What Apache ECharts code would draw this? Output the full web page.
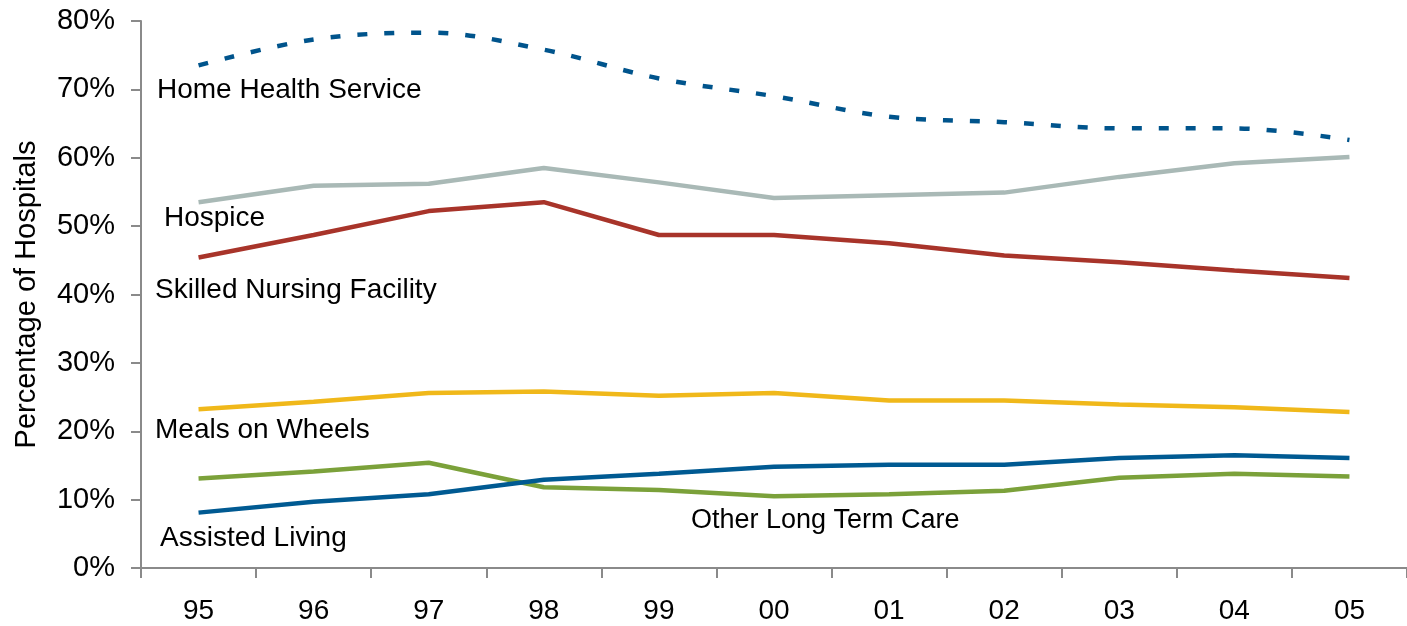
<!DOCTYPE html>
<html lang="en">
<head>
    <meta charset="UTF-8">
    <title>Hospital Long Term Care Services</title>
    <script src="https://cdn.jsdelivr.net/npm/echarts@6/dist/echarts.min.js"></script>
    <style>
        * {
            margin: 0;
            padding: 0;
        }

        #chart {
            width: 1407px;
            height: 626px;
        }
    </style>
</head>
<body>
    <div id="chart"></div>
    <script>
        // data (percent of hospitals)
        const years = ['95', '96', '97', '98', '99', '00', '01', '02', '03', '04', '05']
        const homeHealth = [73.5, 77.3, 78.3, 75.8, 71.6, 69.0, 66.0, 65.2, 64.3, 64.3, 62.6]
        const hospice = [53.5, 55.9, 56.2, 58.5, 56.4, 54.1, 54.5, 54.9, 57.2, 59.2, 60.1]
        const skilledNursing = [45.4, 48.7, 52.2, 53.5, 48.7, 48.7, 47.5, 45.7, 44.7, 43.5, 42.4]
        const mealsOnWheels = [23.2, 24.3, 25.6, 25.8, 25.2, 25.6, 24.5, 24.5, 23.9, 23.5, 22.8]
        const assistedLiving = [8.1, 9.7, 10.8, 12.9, 13.8, 14.8, 15.1, 15.1, 16.1, 16.5, 16.1]
        const otherLongTerm = [13.1, 14.1, 15.4, 11.8, 11.4, 10.5, 10.8, 11.3, 13.2, 13.8, 13.4]

        const yTicks = [0, 80, 10] // min, max, step

        const font = '"Liberation Sans", Arial, sans-serif'
        const axisGray = '#8a8a8a'

        function label(text, x, y, size) {
            return {
                type: 'text',
                x: x,
                y: y,
                style: {
                    text: text,
                    fill: '#000',
                    fontSize: size || 28,
                    fontFamily: font,
                    verticalAlign: 'middle',
                    textVerticalAlign: 'middle'
                }
            }
        }

        function line(name, data, color) {
            return {
                name: name,
                type: 'line',
                data: data,
                symbol: 'none',
                lineStyle: { color: color, width: 4.5 }
            }
        }

        const chart = echarts.init(document.querySelector('#chart'))

        const option = {
            animation: false,
            textStyle: { fontFamily: font },
            grid: {
                left: 141,
                right: -6,
                top: 21,
                bottom: 58
            },
            xAxis: {
                type: 'category',
                data: years,
                boundaryGap: true,
                axisLine: { lineStyle: { color: axisGray, width: 2 } },
                axisTick: { show: true, length: 10, lineStyle: { color: axisGray, width: 2 } },
                axisLabel: { color: '#000', fontSize: 28, margin: 29 }
            },
            yAxis: {
                type: 'value',
                min: yTicks[0],
                max: yTicks[1],
                interval: yTicks[2],
                name: 'Percentage of Hospitals',
                nameLocation: 'middle',
                nameGap: 100,
                nameTextStyle: { color: '#000', fontSize: 29 },
                splitLine: { show: false },
                axisLine: { show: true, lineStyle: { color: axisGray, width: 2 } },
                axisTick: { show: true, length: 10, lineStyle: { color: axisGray, width: 2 } },
                axisLabel: { color: '#000', fontSize: 29, margin: 26, formatter: '{value}%' }
            },
            series: [
                {
                    name: 'Home Health Service',
                    type: 'line',
                    data: homeHealth,
                    symbol: 'none',
                    smooth: 0.35,
                    lineStyle: { color: '#00548c', width: 4.5, type: [10, 17], cap: 'butt' }
                },
                line('Hospice', hospice, '#a9b9b6'),
                line('Skilled Nursing Facility', skilledNursing, '#a8342a'),
                line('Meals on Wheels', mealsOnWheels, '#f0b81a'),
                line('Other Long Term Care', otherLongTerm, '#7ba13a'),
                line('Assisted Living', assistedLiving, '#005a92')
            ],
            graphic: [
                label('Home Health Service', 157, 90),
                label('Hospice', 164, 218),
                label('Skilled Nursing Facility', 155, 290),
                label('Meals on Wheels', 155, 430),
                label('Assisted Living', 160, 538),
                label('Other Long Term Care', 691, 521, 27)
            ]
        }

        chart.setOption(option)
    </script>
</body>
</html>
